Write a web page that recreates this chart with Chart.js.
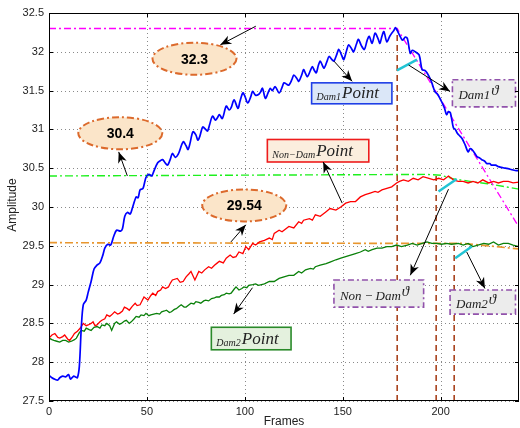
<!DOCTYPE html>
<html>
<head>
<meta charset="utf-8">
<script src="https://cdn.jsdelivr.net/npm/chart.js@4.4.0/dist/chart.umd.min.js"></script>
<style>
  html, body { margin: 0; padding: 0; background: #fff; }
  #grafico { display: block; }
</style>
</head>
<body>
<canvas id="grafico" width="520" height="428" style="width:520px;height:428px"></canvas>
<script>
// ---------------- dados ----------------
const xTicks = [0, 50, 100, 150, 200];
const yTicks = [27.5, 28, 28.5, 29, 29.5, 30, 30.5, 31, 31.5, 32, 32.5];

// Dam1 (azul)
const dam1Frames = [0,1.5,3,4.5,5.5,7,8.5,10,11,12.5,13.5,14.5,15.5,16.5,17.5,19,20,21.5,23,24.5,26,27.5,28.5,30,31.5,33,34.5,36.5,37.5,38.7,40,41.5,42.5,44.5,45.5,46.5,48,49.5,51,52.5,53.5,55.5,57,58,59,60.5,62,63,64.5,66,68.5,70,71,72,73.5,75,76,77,78.5,80,81,82,83.5,85,86,87,88.5,90.5,92,93,94.5,96.5,97.5,99,100,101.5,103,104,105.5,107,108,109,110.5,112,113,114,115.5,117.5,119,120,121.5,122.5,124,125,126.5,127.5,129,130,131,132,133.5,134.5,135.5,136.5,137.5,138.5,139.5,140.5,142,143,144.5,145.5,147,148,149.5,150.5,152,153,154.5,155.5,157,158,159.5,161,162.5,163.5,165,166.5,168,169,170,171,172.5,174,175,176,177,178.5,179.5,180.5,182,183,184.5,185.5,187,189,190.5,192,193,194.5,195.5,197,198.5,200,201,202,203,204,205,206.5,207.5,208.5,210,211,212.5,214,215,216,217.5,218.5,220,221,222.5,223.5,225,226,228,229.5,231,233,235,236.5,238,240];
const dam1Values = [27.83,27.80,27.78,27.77,27.80,27.82,27.81,27.84,27.78,27.82,27.81,27.80,27.95,28.45,28.74,28.80,28.90,29.04,29.20,29.25,29.28,29.38,29.47,29.52,29.51,29.62,29.70,29.69,29.72,29.88,29.93,29.91,29.98,30.13,30.12,30.22,30.24,30.38,30.42,30.40,30.46,30.57,30.60,30.61,30.58,30.54,30.62,30.69,30.64,30.68,30.84,30.79,30.74,30.82,30.97,30.93,30.86,30.91,31.03,31.00,30.98,31.06,31.17,31.12,31.15,31.19,31.14,31.30,31.25,31.28,31.38,31.27,31.36,31.47,31.43,31.34,31.42,31.49,31.44,31.45,31.48,31.53,31.40,31.48,31.53,31.50,31.55,31.47,31.54,31.60,31.58,31.57,31.64,31.70,31.66,31.62,31.70,31.77,31.72,31.68,31.76,31.81,31.76,31.73,31.82,31.88,31.83,31.79,31.88,31.94,31.90,31.88,31.97,32.03,31.95,31.90,32.02,32.09,32.04,32.00,32.10,32.16,32.08,32.03,32.15,32.20,32.11,32.24,32.17,32.11,32.20,32.26,32.13,32.20,32.24,32.27,32.31,32.24,32.19,32.15,32.19,32.17,31.98,32.02,32.00,31.96,31.77,31.76,31.73,31.66,31.60,31.49,31.45,31.38,31.33,31.27,31.19,31.23,31.21,31.02,31.00,30.95,30.91,30.88,30.80,30.71,30.75,30.74,30.69,30.65,30.63,30.61,30.59,30.56,30.56,30.54,30.54,30.52,30.51,30.50,30.49,30.48,30.47,30.47];

// Non-Dam (vermelho)
const nonDamFrames = [0,1.5,3,4.5,5.5,7,8,9.5,10.5,12,13,14.5,16,17.5,19,20,21.5,22.5,23.5,24.5,26,27,28.5,29.5,31,32,33.5,35,36,37.5,38.5,40,41,42.5,44,45,46.5,48.5,50.5,52,53,54.5,55.5,57,58,59.5,61,62,63,65.5,67,68.5,70,71.5,72.5,74.5,76.5,78,79.5,81.5,83,84.5,86,87,89,90.5,92.5,94,95.5,97,99,100.5,102,104,105.5,107.5,110,112.5,114,115,117.5,119,120,122.5,125,127.5,129,130,133,134.5,136,138.5,141.5,143.5,146.5,149,151.5,154,156.5,159,161.5,164,166.5,168,170,172.5,175,177.5,179,181,183.5,186,188.5,191,194,196.5,199,201.5,204,206.5,209,211.5,214,216.5,219,221.5,224.5,227,229.5,232,234.5,237,240];
const nonDamValues = [28.31,28.35,28.37,28.32,28.31,28.33,28.35,28.30,28.28,28.33,28.37,28.40,28.44,28.50,28.47,28.48,28.50,28.52,28.47,28.48,28.52,28.54,28.56,28.61,28.59,28.61,28.65,28.62,28.63,28.66,28.71,28.69,28.67,28.72,28.76,28.73,28.74,28.84,28.80,28.86,28.89,28.86,28.91,28.93,28.97,28.95,28.97,29.02,29.06,29.08,29.03,29.04,29.10,29.14,29.17,29.06,29.17,29.15,29.19,29.23,29.21,29.25,29.28,29.30,29.28,29.34,29.38,29.35,29.36,29.42,29.40,29.49,29.45,29.53,29.51,29.55,29.57,29.60,29.58,29.66,29.70,29.68,29.70,29.75,29.73,29.81,29.79,29.83,29.85,29.83,29.90,29.88,29.94,29.98,29.96,30.00,30.05,30.07,30.07,30.13,30.16,30.18,30.20,30.19,30.22,30.24,30.26,30.31,30.33,30.35,30.33,30.37,30.35,30.39,30.37,30.35,30.37,30.35,30.40,30.35,30.33,30.33,30.31,30.33,30.31,30.35,30.31,30.33,30.31,30.33,30.33,30.31,30.32];

// Dam2 (verde)
const dam2Frames = [0,1.5,2.5,4,5.5,7,8.5,10,11.5,13,14,15.5,16.5,18,19,20.5,21.5,23,24.5,26,27,28.5,29.5,31,32,33.5,34.5,36,37,38.5,39.5,41,42,43.5,44.5,46,47,48.5,49.5,51,52,53.5,55,56.5,57.5,59,60,61.5,62.5,64,65,66.5,67.5,69,70,71.5,72.5,74,75,76.5,77.5,79,80,81.5,83,84.5,85.5,87,88,89.5,90.5,92,93,94.5,95.5,97,98.5,99.5,101,102,104,105.5,107,108.5,110,112.5,115,117.5,120,122.5,125,127.5,129,131,133.5,135,136,138.5,141.5,143.5,146.5,149,151.5,154,156.5,159,161.5,163,165,167.5,170,172.5,175,177.5,180,183,185.5,188,190.5,193,195.5,198,200.5,203,205.5,209,211.5,214,216.5,219,222,224.5,227,229.5,232,234.5,237,240];
const dam2Values = [28.31,28.29,28.28,28.27,28.26,28.28,28.28,28.26,28.27,28.29,28.31,28.38,28.41,28.40,28.44,28.42,28.41,28.45,28.46,28.44,28.48,28.47,28.50,28.47,28.41,28.50,28.52,28.49,28.50,28.53,28.54,28.50,28.52,28.56,28.59,28.58,28.61,28.60,28.63,28.60,28.61,28.62,28.63,28.62,28.65,28.66,28.67,28.64,28.65,28.68,28.69,28.72,28.74,28.71,28.71,28.74,28.76,28.75,28.78,28.77,28.76,28.79,28.80,28.79,28.82,28.83,28.84,28.84,28.86,28.87,28.89,28.88,28.89,28.94,28.97,28.93,28.95,28.97,28.96,28.99,29.00,29.01,28.99,29.00,29.01,29.04,29.04,29.08,29.10,29.12,29.12,29.17,29.15,29.19,29.21,29.20,29.23,29.25,29.27,29.29,29.32,29.34,29.36,29.38,29.40,29.42,29.45,29.43,29.45,29.47,29.47,29.49,29.49,29.51,29.49,29.51,29.53,29.51,29.53,29.55,29.53,29.53,29.52,29.53,29.52,29.53,29.51,29.53,29.49,29.51,29.53,29.52,29.55,29.51,29.53,29.53,29.51,29.49];

// linhas de referencia
const peakFrames = [0, 177.8, 240];
const peakValues = [32.3, 32.3, 29.74];
const nonDamRefFrames = [0, 193, 200, 207, 215, 224, 240];
const nonDamRefValues = [30.40, 30.42, 30.41, 30.36, 30.33, 30.30, 30.23];
const dam2RefFrames = [0, 212, 240];
const dam2RefValues = [29.54, 29.53, 29.46];
const vertFrames = [177.8, 197.7, 206.9];
const vertTops = [32.3, 30.4, 29.5];
const tangentFrames = [[177.7, 187.9], [198.9, 208.2], [207.4, 215.9]];
const tangentValues = [[31.76, 31.90], [30.20, 30.36], [29.34, 29.49]];

// anotacoes (posicoes em unidades do grafico)
const ellipses = [
    { text: '32.3', f: 74.3, v: 31.91, from: [105.6, 32.33], to: [87.5, 32.09] },
    { text: '30.4', f: 36.4, v: 30.95, from: [40, 30.40], to: [35.6, 30.71] },
    { text: '29.54', f: 99.7, v: 30.02, from: [92.9, 29.55], to: [100.5, 29.77] },
];
const caixas = [
    { sub: 'Dam1', main: 'Point', f0: 134.1, v0: 31.60, f1: 175.1, v1: 31.33, fill: '#dbe7f8', stroke: '#1f3fe6', from: [145.5, 31.88], to: [154.8, 31.62] },
    { sub: 'Non\u2212Dam', main: 'Point', f0: 111.5, v0: 30.87, f1: 163.3, v1: 30.58, fill: '#fbeede', stroke: '#ee1c1c', from: [149.7, 30.05], to: [140, 30.58] },
    { sub: 'Dam2', main: 'Point', f0: 82.9, v0: 28.45, f1: 123.6, v1: 28.16, fill: '#e4f1de', stroke: '#2a8a2a', from: [103.9, 28.96], to: [94.3, 28.62] },
    { theta: 'Dam1', f0: 206, v0: 31.64, f1: 238.2, v1: 31.29, from: [183.6, 31.83], to: [204.8, 31.49] },
    { theta: 'Non\u2009\u2212\u2009Dam', f0: 145.5, v0: 29.06, f1: 191.3, v1: 28.71, from: [204, 30.23], to: [184.5, 29.12] },
    { theta: 'Dam2', f0: 204.8, v0: 28.93, f1: 238.2, v1: 28.62, from: [213.3, 29.42], to: [222.6, 28.95] },
];

function pontos(fs, vs) {
    return fs.map(function (f, i) { return { x: f, y: vs[i] }; });
}

const datasets = [
    { data: pontos(dam1Frames, dam1Values), borderColor: '#0000ff', borderWidth: 1.7, tension: 0.3, order: 1 },
    { data: pontos(nonDamFrames, nonDamValues), borderColor: '#ff0000', borderWidth: 1.3, order: 2 },
    { data: pontos(dam2Frames, dam2Values), borderColor: '#0a800a', borderWidth: 1.3, order: 3 },
    { data: pontos(peakFrames, peakValues), borderColor: '#ff00ff', borderWidth: 1.3, borderDash: [7, 3, 2, 3], order: 6 },
    { data: pontos(nonDamRefFrames, nonDamRefValues), borderColor: '#1ef01e', borderWidth: 1.4, borderDash: [8, 3, 2, 3], order: 6 },
    { data: pontos(dam2RefFrames, dam2RefValues), borderColor: '#e8962e', borderWidth: 1.7, borderDash: [8, 3, 2, 3], order: 6 },
];
vertFrames.forEach(function (f, i) {
    datasets.push({ data: [{ x: f, y: 27.5 }, { x: f, y: vertTops[i] }], borderColor: '#a8421c', borderWidth: 1.6, borderDash: [6, 4], order: 7 });
});
tangentFrames.forEach(function (fs, i) {
    datasets.push({ data: pontos(fs, tangentValues[i]), borderColor: '#22c4d4', borderWidth: 2.5, order: 0 });
});

function seta(ctx, x0, y0, x1, y1) {
    ctx.save();
    ctx.strokeStyle = '#000';
    ctx.fillStyle = '#000';
    ctx.lineWidth = 1;
    ctx.setLineDash([]);
    ctx.beginPath();
    ctx.moveTo(x0, y0);
    ctx.lineTo(x1, y1);
    ctx.stroke();
    const a = Math.atan2(y1 - y0, x1 - x0);
    const L = 11, W = 4.5;
    ctx.beginPath();
    ctx.moveTo(x1, y1);
    ctx.lineTo(x1 - L * Math.cos(a) + W * Math.sin(a), y1 - L * Math.sin(a) - W * Math.cos(a));
    ctx.lineTo(x1 - 0.7 * L * Math.cos(a), y1 - 0.7 * L * Math.sin(a));
    ctx.lineTo(x1 - L * Math.cos(a) - W * Math.sin(a), y1 - L * Math.sin(a) + W * Math.cos(a));
    ctx.closePath();
    ctx.fill();
    ctx.restore();
}

const estiloMatlab = {
    id: 'estiloMatlab',
    beforeDatasetsDraw: function (chart) {
        const ctx = chart.ctx, a = chart.chartArea, sx = chart.scales.x, sy = chart.scales.y;
        ctx.save();
        ctx.strokeStyle = '#8a8a8a';
        ctx.lineWidth = 1;
        ctx.setLineDash([1, 3]);
        xTicks.forEach(function (t) {
            const x = Math.round(sx.getPixelForValue(t)) + 0.5;
            ctx.beginPath(); ctx.moveTo(x, a.top); ctx.lineTo(x, a.bottom); ctx.stroke();
        });
        yTicks.forEach(function (t) {
            const y = Math.round(sy.getPixelForValue(t)) + 0.5;
            ctx.beginPath(); ctx.moveTo(a.left, y); ctx.lineTo(a.right, y); ctx.stroke();
        });
        ctx.restore();
    },
    afterDatasetsDraw: function (chart) {
        const ctx = chart.ctx, sx = chart.scales.x, sy = chart.scales.y;
        const P = function (f, v) { return [sx.getPixelForValue(f), sy.getPixelForValue(v)]; };

        ellipses.forEach(function (e) {
            const c = P(e.f, e.v);
            ctx.save();
            ctx.beginPath();
            ctx.ellipse(c[0], c[1], 42, 16, 0, 0, Math.PI * 2);
            ctx.fillStyle = '#fbe5c9';
            ctx.fill();
            ctx.setLineDash([7, 3, 2, 3]);
            ctx.lineWidth = 2;
            ctx.strokeStyle = '#dc6a2c';
            ctx.stroke();
            ctx.fillStyle = '#000';
            ctx.font = 'bold 14px "Liberation Sans", Arial, sans-serif';
            ctx.textAlign = 'center';
            ctx.textBaseline = 'middle';
            ctx.fillText(e.text, c[0], c[1] + 1);
            ctx.restore();
            const p0 = P(e.from[0], e.from[1]), p1 = P(e.to[0], e.to[1]);
            seta(ctx, p0[0], p0[1], p1[0], p1[1]);
        });

        caixas.forEach(function (b) {
            const p0 = P(b.f0, b.v0), p1 = P(b.f1, b.v1);
            const w = p1[0] - p0[0], h = p1[1] - p0[1];
            ctx.save();
            if (b.theta) {
                ctx.fillStyle = '#ececec';
                ctx.fillRect(p0[0], p0[1], w, h);
                ctx.setLineDash([6, 3, 2, 3]);
                ctx.lineWidth = 1.6;
                ctx.strokeStyle = '#9152ab';
                ctx.strokeRect(p0[0], p0[1], w, h);
                ctx.fillStyle = '#222';
                ctx.textBaseline = 'alphabetic';
                ctx.font = 'italic 13px "Liberation Serif", "DejaVu Serif", serif';
                const tx = p0[0] + 6, ty = p0[1] + h / 2 + 6;
                ctx.fillText(b.theta, tx, ty);
                const tw = ctx.measureText(b.theta).width;
                ctx.font = 'italic 15px "Liberation Serif", "DejaVu Serif", serif';
                ctx.fillText('\u03d1', tx + tw + 1, ty - 4);
            } else {
                ctx.fillStyle = b.fill;
                ctx.fillRect(p0[0], p0[1], w, h);
                ctx.lineWidth = 1.6;
                ctx.strokeStyle = b.stroke;
                ctx.strokeRect(p0[0], p0[1], w, h);
                ctx.fillStyle = '#222';
                ctx.textBaseline = 'alphabetic';
                const tx = p0[0] + 5, ty = p0[1] + h / 2 + 5;
                ctx.font = 'italic 10px "Liberation Serif", "DejaVu Serif", serif';
                ctx.fillText(b.sub, tx, ty + 2);
                const tw = ctx.measureText(b.sub).width;
                ctx.font = 'italic 17px "Liberation Serif", "DejaVu Serif", serif';
                ctx.fillText(b.main, tx + tw + 1, ty);
            }
            ctx.restore();
            const a0 = P(b.from[0], b.from[1]), a1 = P(b.to[0], b.to[1]);
            seta(ctx, a0[0], a0[1], a1[0], a1[1]);
        });
    },
    afterDraw: function (chart) {
        const ctx = chart.ctx, a = chart.chartArea, sx = chart.scales.x, sy = chart.scales.y;
        ctx.save();
        ctx.strokeStyle = '#000';
        ctx.lineWidth = 1;
        ctx.setLineDash([]);
        ctx.strokeRect(a.left + 0.5, a.top + 0.5, a.right - a.left - 1, a.bottom - a.top - 1);
        // marcas para dentro
        xTicks.forEach(function (t) {
            const x = Math.round(sx.getPixelForValue(t)) + 0.5;
            ctx.beginPath();
            ctx.moveTo(x, a.bottom); ctx.lineTo(x, a.bottom - 4);
            ctx.moveTo(x, a.top); ctx.lineTo(x, a.top + 4);
            ctx.stroke();
        });
        yTicks.forEach(function (t) {
            const y = Math.round(sy.getPixelForValue(t)) + 0.5;
            ctx.beginPath();
            ctx.moveTo(a.left, y); ctx.lineTo(a.left + 4, y);
            ctx.moveTo(a.right, y); ctx.lineTo(a.right - 4, y);
            ctx.stroke();
        });
        ctx.fillStyle = '#222';
        ctx.font = '12px "Liberation Sans", Arial, sans-serif';
        ctx.textAlign = 'center';
        ctx.textBaseline = 'middle';
        ctx.fillText('Frames', (a.left + a.right) / 2, 422);
        ctx.translate(13, 205);
        ctx.rotate(-Math.PI / 2);
        ctx.fillText('Amplitude', 0, 0);
        ctx.restore();
    }
};

const config = {
    type: 'line',
    data: { datasets: datasets },
    options: {
        responsive: false,
        animation: false,
        parsing: true,
        layout: { padding: { top: 13, right: 1, left: 0, bottom: 0 } },
        elements: { point: { radius: 0 }, line: { tension: 0 } },
        plugins: { legend: { display: false }, tooltip: { enabled: false } },
        scales: {
            x: {
                type: 'linear',
                min: 0,
                max: 240,
                grid: { display: false, drawTicks: false },
                border: { display: false },
                afterBuildTicks: function (s) { s.ticks = xTicks.map(function (v) { return { value: v }; }); },
                afterFit: function (s) { s.height = 27; },
                ticks: {
                    padding: 4,
                    color: '#222',
                    font: { size: 11, family: '"Liberation Sans", Arial, sans-serif' },
                    maxRotation: 0,
                    callback: function (v) { return String(v); }
                }
            },
            y: {
                type: 'linear',
                min: 27.5,
                max: 32.5,
                grid: { display: false, drawTicks: false },
                border: { display: false },
                afterBuildTicks: function (s) { s.ticks = yTicks.map(function (v) { return { value: v }; }); },
                afterFit: function (s) { s.width = 49; },
                ticks: {
                    padding: 5,
                    color: '#222',
                    font: { size: 11, family: '"Liberation Sans", Arial, sans-serif' },
                    callback: function (v) { return String(v); }
                }
            }
        }
    },
    plugins: [estiloMatlab]
};

const grafico = new Chart(document.getElementById('grafico'), config);
</script>
</body>
</html>
